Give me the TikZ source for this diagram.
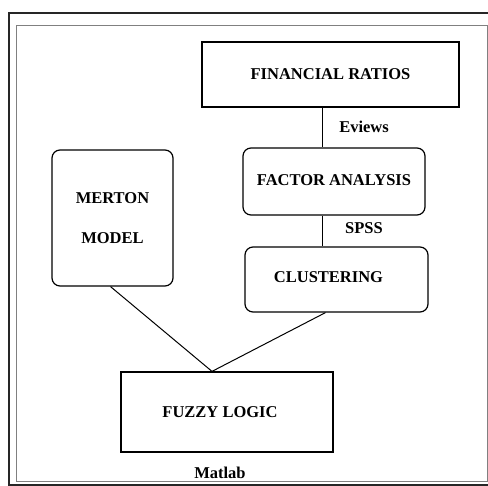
\documentclass[tikz,border=0pt]{standalone}
\usepackage{fontspec}
\setmainfont{Liberation Serif}
\usetikzlibrary{positioning, calc}

\tikzset{
  stage/.style={draw, line width=1.2pt, align=center, inner sep=0pt,
    font=\fontsize{16.5}{18}\selectfont\bfseries},
  softstage/.style={stage, rounded corners=8pt},
  toollabel/.style={font=\fontsize{16.5}{18}\selectfont\bfseries, inner sep=0pt},
  link/.style={line width=1pt}
}

\begin{document}
\begin{tikzpicture}[x=1pt, y=-1pt]
  \useasboundingbox (0,0) rectangle (488,486);
  % frames
  \draw[line width=1.3pt, black!85] (9,13) rectangle (494,485);
  \draw[line width=1pt, black!50] (16,26) rectangle (487,482);

  \node[stage, minimum width=257pt, minimum height=65pt] (fin) at (330.5,74.5) {FINANCIAL RATIOS};
  \node[softstage, minimum width=121pt, minimum height=136pt] (merton) at (112.5,218) {MERTON\\[22pt]MODEL};
  \node[softstage, minimum width=182pt, minimum height=67pt] (fa) at (334,181.5) {\raisebox{2pt}{FACTOR ANALYSIS}};
  \node[softstage, minimum width=183pt, minimum height=65pt] (clu) at (336.5,279.5) {\hspace*{-16pt}\raisebox{4pt}{CLUSTERING}};
  \node[stage, minimum width=212pt, minimum height=80pt] (fuzzy) at (227,412) {\hspace*{-14pt}FUZZY LOGIC};

  \node[toollabel] (eviews) at (364,127) {Eviews};
  \node[toollabel] (spss) at (364,228) {SPSS};
  \node[toollabel] (matlab) at (220,473) {Matlab};

  \coordinate (spine) at (322,0);
  \coordinate (join) at ($(fuzzy.north)+(-15,0)$);

  \draw[link] (fin.south -| spine) -- (fa.north -| spine);
  \draw[link] (fa.south -| spine) -- (clu.north -| spine);
  \draw[link] ($(merton.south)+(-2,0)$) -- (join);
  \draw[link] ($(clu.south)+(-11,0)$) -- (join);
\end{tikzpicture}
\end{document}
